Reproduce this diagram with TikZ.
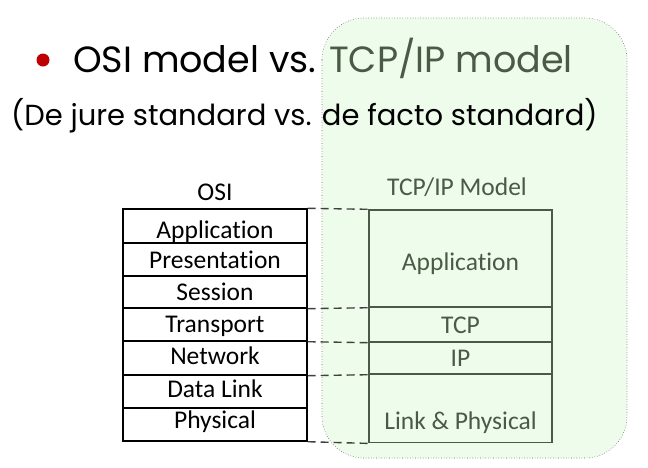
\documentclass[tikz,border=0pt]{standalone}
\usepackage{fontspec}
\setmainfont{Carlito}[Ligatures=NoCommon]
\newfontfamily\titlefont{Poppins}
\begin{document}
\begin{tikzpicture}[x=1pt,y=-1pt,
  layerfont/.style={font=\fontsize{25.5}{28}\selectfont},
  % #1 = twice the drop of the baseline below the box centre
  osibox/.style={draw=black,line width=1.4pt,minimum width=184pt,inner sep=0pt,layerfont,
    text height=#1,text depth=0pt},
  tcpbox/.style={draw=tcpgreen,line width=1.4pt,minimum width=183pt,inner sep=0pt,text=tcpgreen,layerfont,
    text height=#1,text depth=0pt},
  layermap/.style={dash pattern=on 8pt off 5pt,line width=1.4pt,draw=black!75},
  heading/.style={layerfont,inner sep=0pt,anchor=base}
]
\definecolor{tcpgreen}{HTML}{4A5A46}
\definecolor{panelgreen}{HTML}{EEFCEB}
\useasboundingbox (0,0) rectangle (648,467);
\fill[white] (0,0) rectangle (648,467);

% shaded panel for the TCP/IP side
\draw[fill=panelgreen,draw=black!60,dotted,line width=0.6pt,rounded corners=42pt]
  (322,18) rectangle (627,458);

% title lines
\fill[red!75!black] (43,60) circle (6.5pt);
\node[anchor=west,inner sep=0pt,font=\titlefont\fontsize{36.5}{40}\selectfont] (title) at (73,58)
  {OSI model vs. \textcolor{tcpgreen}{TCP/IP model}};
\node[anchor=west,inner sep=0pt,font=\titlefont\fontsize{29}{32}\selectfont] (subtitle) at (11,116)
  {(De jure standard vs. de facto standard)};

% OSI stack
\node[heading] (osi) at (215,200) {OSI};
\node[osibox=24pt,minimum height=34pt] (app) at (215,226) {Application};
\node[osibox=18.6pt,minimum height=33pt] (pre) at (215,259.5) {Presentation};
\node[osibox=17pt,minimum height=32pt] (ses) at (215,292) {Session};
\node[osibox=16.6pt,minimum height=33pt] (tra) at (215,324.5) {Transport};
\node[osibox=13.4pt,minimum height=34pt] (net) at (215,358) {Network};
\node[osibox=12pt,minimum height=33pt] (dll) at (215,391.5) {Data Link};
\node[osibox=7.6pt,minimum height=33pt] (phy) at (215,424.5) {Physical};

% TCP/IP stack
\node[heading,text=tcpgreen] (tcpip) at (457,195) {TCP/IP Model};
\node[tcpbox=23pt,minimum height=97pt] (tapp) at (460.5,258.5) {Application};
\node[tcpbox=17.6pt,minimum height=35pt] (ttcp) at (460.5,324.5) {TCP};
\node[tcpbox=17.4pt,minimum height=32pt] (tip) at (460.5,358) {IP};
\node[tcpbox=0pt,minimum height=68pt,anchor=north] (tlink) at (460.5,374) {};
\node[heading,text=tcpgreen] (tlinklabel) at (460.5,429.5) {Link \& Physical};

% layer correspondence
\draw[layermap] (app.north east) -- (tapp.north west);
\draw[layermap] (ses.south east) -- (tapp.south west);
\draw[layermap] (tra.south east) -- (ttcp.south west);
\draw[layermap] (net.south east) -- (tip.south west);
\draw[layermap] (phy.south east) -- (tlink.south west);
\end{tikzpicture}
\end{document}
